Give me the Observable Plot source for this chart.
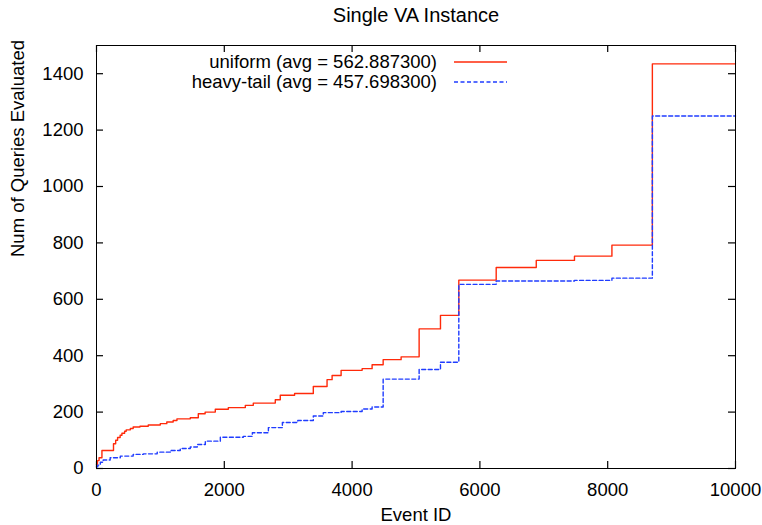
<!DOCTYPE html>
<html>
<head>
<meta charset="utf-8">
<script src="https://cdn.jsdelivr.net/npm/d3@7"></script>
<script src="https://cdn.jsdelivr.net/npm/@observablehq/plot@0.6"></script>
<style>
  html, body { margin: 0; padding: 0; background: white; }
  #chart { width: 762px; height: 525px; }
</style>
</head>
<body>
<div id="chart"></div>
<script>
const title = "Single VA Instance";
const xLabel = "Event ID";
const yLabel = "Num of Queries Evaluated";
const xTicks = [0, 2000, 4000, 6000, 8000, 10000];
const yTicks = [0, 200, 400, 600, 800, 1000, 1200, 1400];
const seriesNames = ["uniform (avg = 562.887300)", "heavy-tail (avg = 457.698300)"];
const seriesColors = ["#ff2a0a", "#1f3cff"];

// uniform: step positions (event id) and values from there on
const uniformX = [0, 15, 40, 85, 266, 300, 330, 370, 398, 440, 465, 530, 574, 680, 810, 998, 1100, 1200, 1259, 1468, 1593, 1700, 1859, 2063, 2329, 2454, 2798, 2876, 3100, 3393, 3608, 3687, 3828, 4157, 4313, 4486, 4767, 5049, 5383, 5670, 6255, 6882, 7480, 8066, 8699, 10000];
const uniformY = [15, 28, 38, 64, 88, 100, 110, 118, 125, 132, 137, 142, 147, 150, 154, 159, 165, 170, 176, 180, 194, 200, 210, 216, 224, 232, 244, 260, 266, 291, 315, 330, 348, 354, 368, 386, 396, 495, 543, 668, 713, 738, 753, 792, 1435, 1435];

// heavy-tail
const heavyX = [0, 20, 60, 105, 214, 373, 574, 731, 950, 1154, 1311, 1468, 1577, 1703, 1938, 2298, 2439, 2690, 2909, 3150, 3393, 3549, 3828, 4157, 4313, 4486, 5049, 5383, 5670, 6255, 7480, 8066, 8699, 10000];
const heavyY = [6, 12, 22, 30, 38, 44, 50, 52, 58, 64, 71, 76, 85, 97, 111, 114, 127, 145, 163, 170, 186, 198, 202, 211, 218, 317, 351, 377, 653, 665, 667, 675, 1250, 1250];

const uniform = uniformX.map((x, i) => ({x, y: uniformY[i]}));
const heavy = heavyX.map((x, i) => ({x, y: heavyY[i]}));

const M = {left: 96, right: 27, top: 45, bottom: 57};
const W = 762, H = 525;
const FW = W - M.left - M.right;   // frame width
const FH = H - M.top - M.bottom;   // frame height
const font = "'Liberation Sans', Arial, Helvetica, sans-serif";
const fmt = d3.format("d");
const T = 7; // inward tick length

const plot = Plot.plot({
  width: W,
  height: H,
  marginLeft: M.left,
  marginRight: M.right,
  marginTop: M.top,
  marginBottom: M.bottom,
  x: {domain: [0, 10000]},
  y: {domain: [0, 1500]},
  style: {fontFamily: font, fontSize: "18.5px", color: "black", background: "white", overflow: "visible"},
  marks: [
    Plot.axisX({anchor: "bottom", ticks: xTicks, tickSize: 0, tickPadding: 14, tickFormat: fmt, label: null}),
    Plot.axisY({anchor: "left", ticks: yTicks, tickSize: 0, tickPadding: 13, tickFormat: fmt, label: null}),
    // inward mirror ticks on all four sides
    Plot.tickX(xTicks, {x: d => d, stroke: "black", strokeWidth: 1.2, insetTop: FH - T}),
    Plot.tickX(xTicks, {x: d => d, stroke: "black", strokeWidth: 1.2, insetBottom: FH - T}),
    Plot.tickY(yTicks, {y: d => d, stroke: "black", strokeWidth: 1.2, insetRight: FW - T}),
    Plot.tickY(yTicks, {y: d => d, stroke: "black", strokeWidth: 1.2, insetLeft: FW - T}),
    Plot.line(uniform, {x: "x", y: "y", curve: "step-after", stroke: seriesColors[0], strokeWidth: 1.4}),
    Plot.line(heavy, {x: "x", y: "y", curve: "step-after", stroke: seriesColors[1], strokeWidth: 1.4, strokeDasharray: "4,2.5"}),
    Plot.frame({stroke: "black", strokeWidth: 1}),
    Plot.text([title], {frameAnchor: "top", dy: -30, fontSize: 20, lineAnchor: "middle"}),
    Plot.text([xLabel], {frameAnchor: "bottom", dy: 47, lineAnchor: "middle"}),
    Plot.text([yLabel], {frameAnchor: "left", dx: -78, rotate: -90, lineAnchor: "middle"})
  ]
});

const svg = d3.select(plot);

// legend (top, inside the frame)
const leg = svg.append("g").attr("font-family", font).attr("font-size", "18.5px");
seriesNames.forEach((name, i) => {
  const cy = 62 + i * 20;
  leg.append("text").attr("x", 437).attr("y", cy).attr("dy", "0.34em")
    .attr("text-anchor", "end").attr("fill", "black").text(name);
  leg.append("line").attr("x1", 454).attr("x2", 507).attr("y1", cy).attr("y2", cy)
    .attr("stroke", seriesColors[i]).attr("stroke-width", 1.4)
    .attr("stroke-dasharray", i === 1 ? "4,2.5" : null);
});

document.getElementById("chart").appendChild(plot);
</script>
</body>
</html>
